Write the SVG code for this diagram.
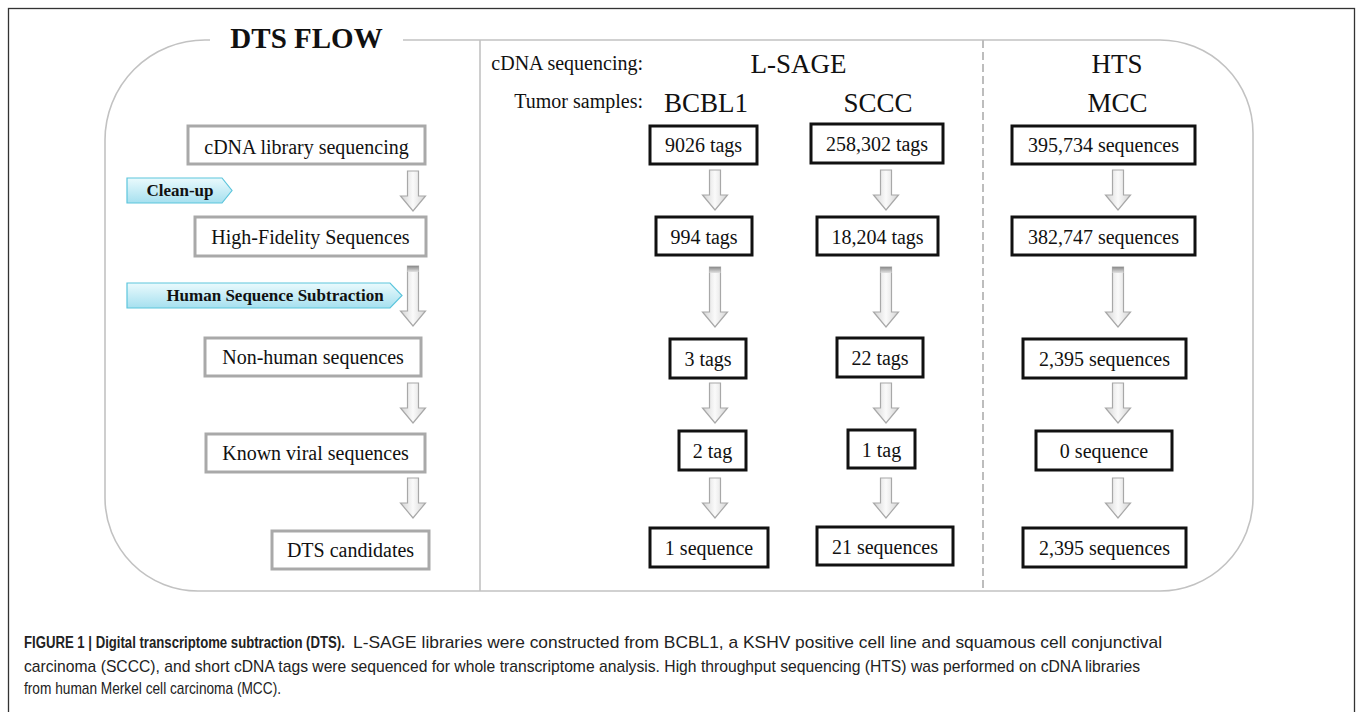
<svg xmlns="http://www.w3.org/2000/svg" width="1357" height="712" viewBox="0 0 1357 712">
<style>
.serif{font-family:"Liberation Serif","Times New Roman",serif;fill:#111}
.t20{font-size:20px}
.hd{font-size:27px}
.gbox{fill:#fff;stroke:#a9a9a9;stroke-width:3}
.bbox{fill:#fff;stroke:#111;stroke-width:3}
.tag{fill:url(#tg);stroke:#5cc5dc;stroke-width:1.2}
.tagt{font-family:"Liberation Serif","Times New Roman",serif;font-weight:bold;font-size:17px;fill:#111}
.cap{font-family:"Liberation Sans",Arial,sans-serif;font-size:17px;fill:#222}
.arr{fill:url(#ag);stroke:#a8a8a8;stroke-width:1.2}
.frame{fill:none;stroke:#c2c2c2;stroke-width:1.6}
</style>
<defs>
<linearGradient id="ag" x1="0" y1="0" x2="1" y2="0">
<stop offset="0" stop-color="#d4d4d4"/>
<stop offset="0.5" stop-color="#fafafa"/>
<stop offset="1" stop-color="#d4d4d4"/>
</linearGradient>
<linearGradient id="capg" x1="0" y1="0" x2="0" y2="1">
<stop offset="0" stop-color="#8a8a8a"/>
<stop offset="1" stop-color="#e2e2e2"/>
</linearGradient>
<linearGradient id="tg" x1="0" y1="0" x2="0" y2="1">
<stop offset="0" stop-color="#eafafd"/>
<stop offset="1" stop-color="#a6e0ef"/>
</linearGradient>
<path id="arrS" class="arr" d="M-5.5,0 H5.5 V25 H12.5 L0,40 L-12.5,25 H-5.5 Z"/>
<g id="arrL">
<path class="arr" d="M-5.5,0 H5.5 V45 H12.5 L0,60 L-12.5,45 H-5.5 Z"/>
<rect x="-5.5" y="0" width="11" height="6" fill="url(#capg)"/>
</g>
</defs>
<rect width="1357" height="712" fill="#fff"/>
<rect x="8.5" y="8.5" width="1346" height="720" fill="none" stroke="#333" stroke-width="1.3"/>

<g id="frame">
<path class="frame" d="M403,40 H1160 A93,93 0 0 1 1253,133 V498 A93,93 0 0 1 1160,591 H198 A93,93 0 0 1 105,498 V140 A100,100 0 0 1 205,40 H210"/>
<line x1="480" y1="40" x2="480" y2="591" stroke="#c2c2c2" stroke-width="1.6"/>
<line x1="983" y1="40" x2="983" y2="591" stroke="#bdbdbd" stroke-width="2" stroke-dasharray="8 4"/>
<text x="306.5" y="48" text-anchor="middle" class="serif" font-weight="bold" font-size="29">DTS FLOW</text>
</g>

<g id="headers" class="serif">
<text x="643" y="70" text-anchor="end" class="t20">cDNA sequencing:</text>
<text x="643" y="108" text-anchor="end" class="t20">Tumor samples:</text>
<text x="798.5" y="73" text-anchor="middle" class="hd">L-SAGE</text>
<text x="706" y="112" text-anchor="middle" class="hd">BCBL1</text>
<text x="878" y="112" text-anchor="middle" class="hd">SCCC</text>
<text x="1117" y="73" text-anchor="middle" class="hd">HTS</text>
<text x="1117.5" y="112" text-anchor="middle" class="hd">MCC</text>
</g>

<g id="tag-cleanup">
<path class="tag" d="M127,178 H222 L232,190.5 L222,203 H127 Z"/>
<text x="180" y="196" text-anchor="middle" class="tagt">Clean-up</text>
</g>
<g id="tag-human">
<path class="tag" d="M127,283 H390 L402,295.5 L390,308 H127 Z"/>
<text x="275" y="301" text-anchor="middle" class="tagt">Human Sequence Subtraction</text>
</g>

<g id="flow-1"><rect class="gbox" x="188" y="126" width="237" height="38"/><text x="306.5" y="154" text-anchor="middle" class="serif t20">cDNA library sequencing</text></g>
<g id="flow-2"><rect class="gbox" x="195" y="217" width="231" height="39"/><text x="310.5" y="244" text-anchor="middle" class="serif t20">High-Fidelity Sequences</text></g>
<g id="flow-3"><rect class="gbox" x="205" y="338" width="216" height="38"/><text x="313" y="364" text-anchor="middle" class="serif t20">Non-human sequences</text></g>
<g id="flow-4"><rect class="gbox" x="206" y="434" width="219" height="38"/><text x="315.5" y="460" text-anchor="middle" class="serif t20">Known viral sequences</text></g>
<g id="flow-5"><rect class="gbox" x="272" y="531" width="157" height="38"/><text x="350.5" y="557" text-anchor="middle" class="serif t20">DTS candidates</text></g>

<g id="bcbl1-1"><rect class="bbox" x="650" y="126" width="107" height="38"/><text x="703.5" y="152" text-anchor="middle" class="serif t20">9026 tags</text></g>
<g id="bcbl1-2"><rect class="bbox" x="656" y="217" width="96" height="38"/><text x="704" y="243.5" text-anchor="middle" class="serif t20">994 tags</text></g>
<g id="bcbl1-3"><rect class="bbox" x="670" y="339" width="76" height="39"/><text x="708" y="365.5" text-anchor="middle" class="serif t20">3 tags</text></g>
<g id="bcbl1-4"><rect class="bbox" x="679" y="431" width="67" height="39"/><text x="712.5" y="457.5" text-anchor="middle" class="serif t20">2 tag</text></g>
<g id="bcbl1-5"><rect class="bbox" x="650" y="528" width="118" height="39"/><text x="709" y="554.5" text-anchor="middle" class="serif t20">1 sequence</text></g>

<g id="sccc-1"><rect class="bbox" x="811" y="124" width="132" height="39"/><text x="877" y="150.5" text-anchor="middle" class="serif t20">258,302 tags</text></g>
<g id="sccc-2"><rect class="bbox" x="817" y="217" width="121" height="38"/><text x="877.5" y="243.5" text-anchor="middle" class="serif t20">18,204 tags</text></g>
<g id="sccc-3"><rect class="bbox" x="837" y="338" width="86" height="39"/><text x="880" y="364.5" text-anchor="middle" class="serif t20">22 tags</text></g>
<g id="sccc-4"><rect class="bbox" x="848" y="430" width="67" height="38"/><text x="881.5" y="456.5" text-anchor="middle" class="serif t20">1 tag</text></g>
<g id="sccc-5"><rect class="bbox" x="817" y="527" width="136" height="38"/><text x="885" y="553.5" text-anchor="middle" class="serif t20">21 sequences</text></g>

<g id="mcc-1"><rect class="bbox" x="1012" y="126" width="183" height="38"/><text x="1103.5" y="152" text-anchor="middle" class="serif t20">395,734 sequences</text></g>
<g id="mcc-2"><rect class="bbox" x="1012" y="217" width="183" height="38"/><text x="1103.5" y="243.5" text-anchor="middle" class="serif t20">382,747 sequences</text></g>
<g id="mcc-3"><rect class="bbox" x="1023" y="339" width="163" height="39"/><text x="1104.5" y="365.5" text-anchor="middle" class="serif t20">2,395 sequences</text></g>
<g id="mcc-4"><rect class="bbox" x="1036" y="431" width="136" height="39"/><text x="1104" y="457.5" text-anchor="middle" class="serif t20">0 sequence</text></g>
<g id="mcc-5"><rect class="bbox" x="1023" y="528" width="163" height="39"/><text x="1104.5" y="554.5" text-anchor="middle" class="serif t20">2,395 sequences</text></g>

<g id="connectors">
<use href="#arrS" x="413" y="171"/>
<use href="#arrL" x="413" y="266"/>
<use href="#arrS" x="413" y="383"/>
<use href="#arrS" x="413" y="478"/>
<use href="#arrS" x="715" y="170"/>
<use href="#arrL" x="715" y="267"/>
<use href="#arrS" x="715" y="383"/>
<use href="#arrS" x="715" y="478"/>
<use href="#arrS" x="886" y="170"/>
<use href="#arrL" x="886" y="267"/>
<use href="#arrS" x="886" y="383"/>
<use href="#arrS" x="886" y="478"/>
<use href="#arrS" x="1118" y="170"/>
<use href="#arrL" x="1118" y="267"/>
<use href="#arrS" x="1118" y="383"/>
<use href="#arrS" x="1118" y="478"/>
</g>

<g id="caption">
<text transform="translate(24,648) scale(0.8,1)" class="cap" font-weight="bold" fill="#111" textLength="401" lengthAdjust="spacingAndGlyphs">FIGURE 1 | Digital transcriptome subtraction (DTS).</text>
<text x="353" y="648" class="cap" font-size="17.5" textLength="809" lengthAdjust="spacingAndGlyphs">L-SAGE libraries were constructed from BCBL1, a KSHV positive cell line and squamous cell conjunctival</text>
<text x="24" y="672" class="cap" textLength="1116" lengthAdjust="spacingAndGlyphs">carcinoma (SCCC), and short cDNA tags were sequenced for whole transcriptome analysis. High throughput sequencing (HTS) was performed on cDNA libraries</text>
<text x="24" y="694" class="cap" textLength="257" lengthAdjust="spacingAndGlyphs">from human Merkel cell carcinoma (MCC).</text>
</g>
</svg>
